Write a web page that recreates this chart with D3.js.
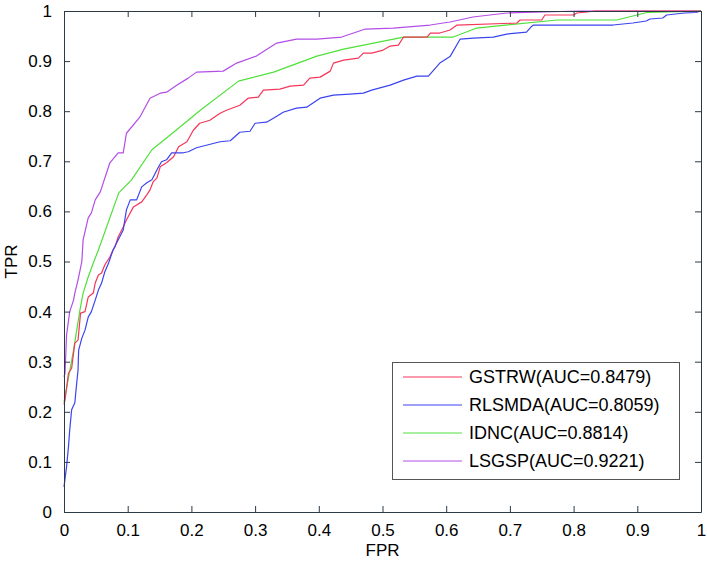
<!DOCTYPE html>
<html>
<head>
<meta charset="utf-8">
<script src="https://cdn.jsdelivr.net/npm/d3@7"></script>
<style>
  html, body { margin: 0; padding: 0; background: #fff; }
  svg { display: block; font-family: "Liberation Sans", Arial, sans-serif; }
</style>
</head>
<body>
<svg id="chart" width="707" height="562"></svg>
<script>
// ---------- data ----------
const seriesNames = ["GSTRW(AUC=0.8479)", "RLSMDA(AUC=0.8059)", "IDNC(AUC=0.8814)", "LSGSP(AUC=0.9221)"];
const seriesColors = ["#f5365a", "#3a44f0", "#4fe03a", "#b24ee6"];

const gstrwFPR = [0,0.0016,0.007,0.012,0.017,0.022,0.026,0.033,0.038,0.046,0.049,0.054,0.059,0.064,0.072,0.077,0.080,0.085,0.093,0.098,0.109,0.122,0.130,0.135,0.140,0.146,0.151,0.161,0.172,0.180,0.193,0.203,0.213,0.229,0.245,0.255,0.276,0.289,0.305,0.313,0.339,0.355,0.376,0.386,0.402,0.418,0.423,0.439,0.462,0.470,0.483,0.501,0.512,0.525,0.533,0.570,0.575,0.590,0.606,0.617,0.711,0.716,0.750,0.755,0.800,0.805,0.821,0.834,1];
const gstrwTPR = [0.215,0.224,0.277,0.287,0.337,0.343,0.397,0.400,0.429,0.437,0.457,0.473,0.477,0.493,0.509,0.523,0.529,0.549,0.569,0.583,0.609,0.619,0.633,0.643,0.659,0.667,0.689,0.697,0.709,0.729,0.739,0.762,0.776,0.782,0.796,0.802,0.812,0.826,0.828,0.842,0.844,0.850,0.852,0.866,0.868,0.880,0.896,0.902,0.906,0.916,0.916,0.922,0.930,0.932,0.948,0.948,0.956,0.956,0.962,0.972,0.976,0.982,0.982,0.992,0.992,0.996,0.998,1,1];

const rlsmdaFPR = [0,0.004,0.007,0.009,0.012,0.017,0.020,0.022,0.023,0.028,0.033,0.038,0.043,0.049,0.054,0.059,0.064,0.070,0.077,0.093,0.098,0.104,0.114,0.122,0.130,0.138,0.146,0.153,0.161,0.169,0.187,0.195,0.208,0.245,0.261,0.276,0.292,0.300,0.318,0.334,0.344,0.365,0.381,0.402,0.423,0.449,0.470,0.483,0.512,0.533,0.554,0.572,0.590,0.606,0.622,0.643,0.674,0.695,0.726,0.733,0.737,0.862,0.893,0.914,0.920,0.940,0.946,0.974,0.992,1];
const rlsmdaTPR = [0.05,0.09,0.13,0.164,0.204,0.218,0.258,0.283,0.323,0.347,0.363,0.389,0.400,0.423,0.443,0.457,0.479,0.497,0.523,0.563,0.603,0.623,0.623,0.649,0.657,0.663,0.683,0.699,0.703,0.717,0.717,0.719,0.727,0.739,0.741,0.758,0.760,0.776,0.778,0.790,0.798,0.806,0.808,0.826,0.832,0.834,0.836,0.842,0.852,0.862,0.870,0.870,0.896,0.909,0.944,0.946,0.948,0.954,0.958,0.968,0.972,0.972,0.976,0.980,0.984,0.986,0.992,0.996,0.997,1];

const idncFPR = [0,0.0016,0.015,0.020,0.025,0.030,0.038,0.046,0.054,0.086,0.106,0.138,0.172,0.214,0.274,0.329,0.397,0.439,0.533,0.611,0.648,0.774,0.868,0.915,0.978,1];
const idncTPR = [0.22,0.23,0.323,0.363,0.403,0.437,0.469,0.497,0.523,0.637,0.663,0.723,0.758,0.802,0.860,0.878,0.910,0.924,0.948,0.948,0.966,0.982,0.982,0.997,0.999,1];

const lsgspFPR = [0,0.0016,0.004,0.009,0.015,0.017,0.022,0.028,0.030,0.038,0.043,0.049,0.057,0.072,0.085,0.093,0.098,0.119,0.135,0.151,0.161,0.177,0.195,0.208,0.250,0.271,0.302,0.334,0.365,0.397,0.436,0.473,0.517,0.575,0.606,0.642,0.695,0.810,1];
const lsgspTPR = [0.27,0.277,0.353,0.400,0.423,0.437,0.463,0.500,0.543,0.587,0.597,0.623,0.639,0.697,0.717,0.717,0.756,0.788,0.826,0.836,0.838,0.852,0.866,0.878,0.880,0.896,0.910,0.936,0.944,0.944,0.948,0.964,0.966,0.972,0.978,0.988,0.996,1,1];

const xTicks = [0,0.1,0.2,0.3,0.4,0.5,0.6,0.7,0.8,0.9,1];
const yTicks = [0,0.1,0.2,0.3,0.4,0.5,0.6,0.7,0.8,0.9,1];
const xLabel = "FPR";
const yLabel = "TPR";

const series = [
  { name: seriesNames[0], color: seriesColors[0], fpr: gstrwFPR, tpr: gstrwTPR },
  { name: seriesNames[1], color: seriesColors[1], fpr: rlsmdaFPR, tpr: rlsmdaTPR },
  { name: seriesNames[2], color: seriesColors[2], fpr: idncFPR, tpr: idncTPR },
  { name: seriesNames[3], color: seriesColors[3], fpr: lsgspFPR, tpr: lsgspTPR }
];
// draw order: LSGSP, IDNC, GSTRW, RLSMDA on top-ish
const drawOrder = [3, 2, 0, 1];

// ---------- layout ----------
const L = 64, R = 701, T = 11, B = 512;
const axisColor = "#2c3a46";
const svg = d3.select("#chart");

const x = d3.scaleLinear().domain([0, 1]).range([L, R]);
const y = d3.scaleLinear().domain([0, 1]).range([B, T]);

// plot background
svg.append("rect").attr("x", L).attr("y", T).attr("width", R - L).attr("height", B - T).attr("fill", "#fff");

// curves
const line = d3.line().x(d => x(d[0])).y(d => y(d[1]));
const plot = svg.append("g");
drawOrder.forEach(i => {
  const s = series[i];
  const pts = s.fpr.map((f, k) => [f, s.tpr[k]]);
  plot.append("path")
    .attr("d", line(pts))
    .attr("fill", "none")
    .attr("stroke", s.color)
    .attr("stroke-width", 1.2)
    .attr("stroke-linejoin", "round");
});

// axes
const fmt = d => (d === 0 ? "0" : d === 1 ? "1" : d3.format(".1f")(d));
function styleAxis(g, showLabels) {
  g.select(".domain").attr("stroke", axisColor).attr("stroke-width", 1);
  g.selectAll(".tick line").attr("stroke", axisColor).attr("stroke-width", 1);
  g.selectAll(".tick text").attr("fill", "#000").style("font-size", "17px");
  if (!showLabels) g.selectAll(".tick text").remove();
}
svg.append("g").attr("transform", `translate(0,${B})`)
  .call(d3.axisBottom(x).tickValues(xTicks).tickFormat(fmt).tickSizeInner(-6).tickSizeOuter(0).tickPadding(12))
  .call(g => styleAxis(g, true));
svg.append("g").attr("transform", `translate(0,${T})`)
  .call(d3.axisTop(x).tickValues(xTicks).tickSizeInner(-6).tickSizeOuter(0))
  .call(g => styleAxis(g, false));
svg.append("g").attr("transform", `translate(${L},0)`)
  .call(d3.axisLeft(y).tickValues(yTicks).tickFormat(fmt).tickSizeInner(-6).tickSizeOuter(0).tickPadding(12))
  .call(g => styleAxis(g, true));
svg.append("g").attr("transform", `translate(${R},0)`)
  .call(d3.axisRight(y).tickValues(yTicks).tickSizeInner(-6).tickSizeOuter(0))
  .call(g => styleAxis(g, false));
svg.selectAll(".tick text").attr("font-family", "Liberation Sans, Arial, sans-serif");

// axis labels
svg.append("text").attr("x", (L + R) / 2).attr("y", 556)
  .attr("text-anchor", "middle").style("font-size", "17px").text(xLabel);
svg.append("text").attr("transform", `translate(17,${(T + B) / 2}) rotate(-90)`)
  .attr("text-anchor", "middle").style("font-size", "17px").text(yLabel);

// legend
const lg = svg.append("g");
lg.append("rect").attr("x", 392.5).attr("y", 362.5).attr("width", 287).attr("height", 117)
  .attr("fill", "#fff").attr("stroke", "#555").attr("stroke-width", 1);
const legendY = d3.scalePoint().domain(d3.range(series.length)).range([377, 461]);
series.forEach((s, i) => {
  const yy = legendY(i);
  lg.append("line").attr("x1", 403).attr("x2", 462).attr("y1", yy).attr("y2", yy)
    .attr("stroke", s.color).attr("stroke-width", 1);
  lg.append("text").attr("x", 469).attr("y", yy).attr("dy", "0.35em")
    .style("font-size", "18px").attr("fill", "#000").text(s.name);
});
</script>
</body>
</html>
